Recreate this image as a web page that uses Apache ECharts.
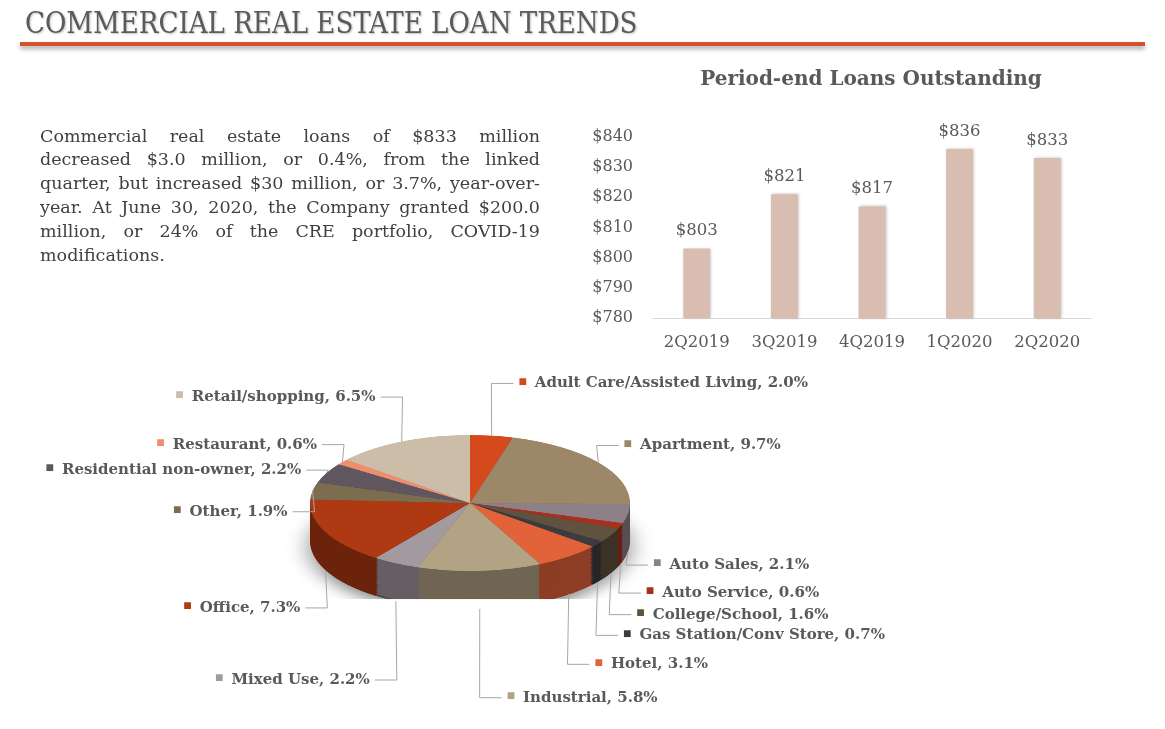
<!DOCTYPE html>
<html>
<head>
<meta charset="utf-8">
<script src="https://cdn.jsdelivr.net/npm/echarts/dist/echarts.min.js"></script>
<style>
html,body{margin:0;padding:0;background:#ffffff;overflow:hidden;}
#pie3d{position:absolute;left:0;top:0;width:1165px;height:729px;transform-origin:470px 503px;transform:scaleY(0.425);}
#main{position:absolute;left:0;top:0;width:1165px;height:729px;}
</style>
</head>
<body>
<div id="pie3d"></div>
<div id="main"></div>
<script>
// ---- data ----
const quarters = ['2Q2019', '3Q2019', '4Q2019', '1Q2020', '2Q2020'];
const loansOutstanding = [803, 821, 817, 836, 833];
const yAxisMin = 780;
const yAxisMax = 840;
const yAxisStep = 10;

const creCategories = [
  'Adult Care/Assisted Living', 'Apartment', 'Auto Sales', 'Auto Service',
  'College/School', 'Gas Station/Conv Store', 'Hotel', 'Industrial',
  'Mixed Use', 'Office', 'Other', 'Residential non-owner', 'Restaurant',
  'Retail/shopping'
];
const creShares = [2.0, 9.7, 2.1, 0.6, 1.6, 0.7, 3.1, 5.8, 2.2, 7.3, 1.9, 2.2, 0.6, 6.5];

const paragraphLines = [
  'Commercial real estate loans of $833 million',
  'decreased $3.0 million, or 0.4%, from the linked',
  'quarter, but increased $30 million, or 3.7%, year-over-',
  'year.  At June 30, 2020, the Company granted $200.0',
  'million, or 24% of the CRE portfolio, COVID-19',
  'modifications.'
];

// ---- styles ----
const sliceColors = ['#d44a1c', '#9c8769', '#8e8088', '#a8301a', '#5f533f', '#3d3b40',
  '#e2633a', '#b3a385', '#a39aa0', '#ae3912', '#7d6d4f', '#5f5660', '#ef8d6d', '#cbbda8'];
function shade(hex, f) {
  const n = parseInt(hex.slice(1), 16);
  const r = Math.round(((n >> 16) & 255) * f), g = Math.round(((n >> 8) & 255) * f), b = Math.round((n & 255) * f);
  return 'rgb(' + r + ',' + g + ',' + b + ')';
}
const sideColors = sliceColors.map(c => shade(c, 0.62));

const CX = 470, CY = 503, R = 160, K = 0.425, B = R * K, THICK = 38;
const LX = 470, LY = 540, LR = 140;
const txt = '#595959';

// ---- 3D-looking pie (vertically squashed container) ----
function pieLayer(cy, colors, withShadow) {
  return {
    type: 'pie', center: [CX, cy], radius: R, startAngle: 90, clockwise: true,
    silent: true, animation: false,
    label: { show: false }, labelLine: { show: false },
    itemStyle: withShadow
      ? { borderWidth: 0, shadowBlur: 24, shadowOffsetY: 14, shadowColor: 'rgba(0,0,0,0.45)' }
      : { borderWidth: 0 },
    data: creCategories.map((n, i) => ({ name: n, value: creShares[i], itemStyle: { color: colors[i] } }))
  };
}
const pieSeries = [];
for (let d = THICK; d > 0; d -= 2) {
  pieSeries.push(pieLayer(CY + d / K, sideColors, d === THICK));
}
pieSeries.push(pieLayer(CY, sliceColors, false));
const pieChart = echarts.init(document.getElementById('pie3d'));
pieChart.setOption({ animation: false, series: pieSeries });

// ---- justified paragraph as text elements ----
const paraFont = '17.5px "DejaVu Serif"';
const paraLeft = 40, paraRight = 540, paraTop = 128, paraLine = 23.8;
const mctx = document.createElement('canvas').getContext('2d');
mctx.font = paraFont;
const paraGraphics = [];
paragraphLines.forEach((line, li) => {
  const words = line.split(' ').filter(w => w.length);
  const y = paraTop + li * paraLine;
  const last = li === paragraphLines.length - 1;
  if (last || words.length < 2) {
    paraGraphics.push({ type: 'text', x: paraLeft, y: y, style: { text: line, fill: '#404040', font: paraFont } });
    return;
  }
  const widths = words.map(w => mctx.measureText(w).width);
  const total = widths.reduce((a, b) => a + b, 0);
  const gap = (paraRight - paraLeft - total) / (words.length - 1);
  let x = paraLeft;
  words.forEach((w, wi) => {
    paraGraphics.push({ type: 'text', x: x, y: y, style: { text: w, fill: '#404040', font: paraFont } });
    x += widths[wi] + gap;
  });
});

// ---- main chart ----
const rich = { t: { color: txt, fontFamily: 'DejaVu Serif', fontWeight: 'bold', fontSize: 15 } };
sliceColors.forEach((c, i) => { rich['m' + i] = { color: c, fontSize: 14, padding: [0, 8, 3, 0] }; });

const chart = echarts.init(document.getElementById('main'));
chart.setOption({
  backgroundColor: 'transparent',
  animation: false,
  graphic: [
    { type: 'text', left: 25, top: 11, style: { text: 'COMMERCIAL REAL ESTATE LOAN TRENDS', fill: '#5a5a5a',
      font: '29px "DejaVu Serif Condensed", "DejaVu Serif"', textShadowColor: 'rgba(0,0,0,0.25)', textShadowBlur: 2, textShadowOffsetX: 1, textShadowOffsetY: 1 } },
    { type: 'rect', shape: { x: 20, y: 42, width: 1125, height: 4 }, style: { fill: '#d2532a', shadowColor: 'rgba(0,0,0,0.35)', shadowBlur: 4, shadowOffsetY: 3 } }
  ].concat(paraGraphics),
  title: {
    text: 'Period-end Loans Outstanding', left: 866, top: 65, textAlign: 'center',
    textStyle: { color: txt, fontFamily: 'DejaVu Serif', fontWeight: 'bold', fontSize: 20 }
  },
  grid: { left: 653, right: 74, top: 137, bottom: 411 },
  xAxis: {
    type: 'category', data: quarters,
    axisLine: { lineStyle: { color: '#d9d9d9', width: 1 } },
    axisTick: { show: false },
    axisLabel: { color: txt, fontFamily: 'DejaVu Serif', fontSize: 16.5, margin: 16, interval: 0 }
  },
  yAxis: {
    type: 'value', min: yAxisMin, max: yAxisMax, interval: yAxisStep,
    axisLine: { show: false }, axisTick: { show: false }, splitLine: { show: false },
    axisLabel: { color: txt, fontFamily: 'DejaVu Serif', fontSize: 16, margin: 20, formatter: v => '$' + v }
  },
  series: [
    {
      type: 'bar', data: loansOutstanding, barWidth: 27,
      itemStyle: { color: '#d9bdb1', shadowColor: 'rgba(0,0,0,0.25)', shadowBlur: 3, shadowOffsetX: 1, shadowOffsetY: 0 },
      label: { show: true, position: 'top', distance: 9, color: txt, fontFamily: 'DejaVu Serif', fontSize: 16.5, formatter: p => '$' + p.value }
    },
    {
      type: 'pie', center: [LX, LY], radius: LR, startAngle: 90, clockwise: true,
      silent: true, animation: false,
      itemStyle: { color: 'rgba(0,0,0,0)', borderWidth: 0 },
      label: {
        show: true, rich: rich,
        formatter: p => '{m' + p.dataIndex + '|■}{t|' + p.name + ', ' + p.value.toFixed(1) + '%}'
      },
      labelLine: { show: true, length: 18, length2: 22, lineStyle: { color: '#a6a6a6', width: 1 } },
      labelLayout: function (p) {
        const pts = p.labelLinePoints;
        if (!pts) return {};
        const np = pts.map(q => q.slice());
        const ux = (np[0][0] - LX) / LR, uy = (np[0][1] - LY) / LR;
        np[0] = [CX + R * ux, CY + B * uy + (uy > 0 ? THICK : 0)];
        return { labelLinePoints: np };
      },
      data: creCategories.map((n, i) => ({ name: n, value: creShares[i] }))
    }
  ]
});
</script>
</body>
</html>
